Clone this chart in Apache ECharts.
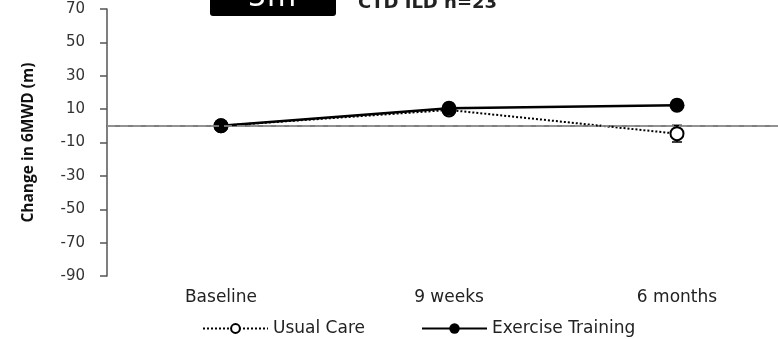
<!DOCTYPE html>
<html>
<head>
<meta charset="utf-8">
<script src="https://cdn.jsdelivr.net/npm/echarts@6/dist/echarts.min.js"></script>
<style>
  html, body { margin: 0; padding: 0; background: #fff; }
  #chart { width: 778px; height: 339px; }
</style>
</head>
<body>
<div id="chart"></div>
<script>
// Time points and mean change in 6-minute walk distance (m)
const categories = ['Baseline', '9 weeks', '6 months'];
const usualCare = [0, 9.5, -4.7];
const usualCareErr = [2.5, 3, 5];
const exercise = [0, 10.5, 12.3];
const exerciseErr = [2.5, 3, 3];

// Y axis range and tick step
const yMin = -90;
const yMax = 70;
const yStep = 20;

const FONT = 'DejaVu Sans';

// Vertical error bars with short caps, drawn behind the markers
function errorBars(values, errs) {
  return {
    type: 'custom',
    silent: true,
    z: 1,
    data: values.map((v, i) => [i, v - errs[i], v + errs[i]]),
    encode: { x: 0, y: [1, 2] },
    renderItem(params, api) {
      const x = api.value(0);
      const lo = api.coord([x, api.value(1)]);
      const hi = api.coord([x, api.value(2)]);
      const w = 5;
      const st = { stroke: '#000', lineWidth: 1.5 };
      return {
        type: 'group',
        children: [
          { type: 'line', shape: { x1: lo[0], y1: lo[1], x2: hi[0], y2: hi[1] }, style: st },
          { type: 'line', shape: { x1: lo[0] - w, y1: lo[1], x2: lo[0] + w, y2: lo[1] }, style: st },
          { type: 'line', shape: { x1: hi[0] - w, y1: hi[1], x2: hi[0] + w, y2: hi[1] }, style: st }
        ]
      };
    }
  };
}

const legendText = { fontFamily: FONT, fontSize: 17, color: '#222' };

const chart = echarts.init(document.getElementById('chart'), null, { renderer: 'canvas' });

chart.setOption({
  animation: false,
  backgroundColor: '#fff',
  textStyle: { fontFamily: FONT },
  grid: { left: 107, top: 9, width: 684, height: 267, containLabel: false, outerBoundsMode: 'none' },
  graphic: [
    {
      type: 'rect',
      shape: { x: 210, y: -10, width: 126, height: 26, r: 3 },
      style: { fill: '#000' }
    },
    {
      type: 'text',
      x: 272, y: 13.5,
      style: { text: '5m', fill: '#fff', font: '30px ' + FONT, align: 'center', verticalAlign: 'bottom' }
    },
    {
      type: 'text',
      x: 358, y: 12,
      style: { text: 'CTD ILD n=23', fill: '#222', font: 'bold 18px ' + FONT, align: 'left', verticalAlign: 'bottom' }
    }
  ],
  legend: [
    {
      data: ['Usual Care'],
      left: 197,
      top: 315,
      itemWidth: 65,
      itemHeight: 11,
      textStyle: legendText
    },
    {
      data: ['Exercise Training'],
      left: 416,
      top: 315,
      itemWidth: 65,
      itemHeight: 13,
      textStyle: legendText
    }
  ],
  xAxis: {
    type: 'category',
    data: categories,
    boundaryGap: true,
    axisLine: { show: true, lineStyle: { color: '#555', width: 1.5 } },
    axisTick: { show: false },
    axisLabel: { fontFamily: FONT, fontSize: 17, color: '#222', margin: 13 },
    splitLine: { show: false }
  },
  yAxis: {
    type: 'value',
    min: yMin,
    max: yMax,
    interval: yStep,
    name: 'Change in 6MWD (m)',
    nameLocation: 'middle',
    nameGap: 70,
    nameRotate: 90,
    nameTextStyle: { fontFamily: 'Open Sans', fontWeight: 'bold', fontSize: 15.5, color: '#111' },
    axisLine: { show: true, lineStyle: { color: '#555', width: 1.5 } },
    axisTick: { show: true, inside: false, length: 7, lineStyle: { color: '#555', width: 1.5 } },
    axisLabel: { fontFamily: FONT, fontSize: 15, color: '#333', margin: 22 },
    splitLine: { show: false }
  },
  series: [
    errorBars(usualCare, usualCareErr),
    errorBars(exercise, exerciseErr),
    {
      name: 'Usual Care',
      type: 'line',
      z: 3,
      data: usualCare,
      symbol: 'circle',
      symbolSize: 13,
      itemStyle: { color: '#fff', borderColor: '#000', borderWidth: 2 },
      lineStyle: { color: '#000', width: 2, type: [2, 2] }
    },
    {
      name: 'Exercise Training',
      type: 'line',
      z: 4,
      data: exercise,
      symbol: 'circle',
      symbolSize: 15,
      itemStyle: { color: '#000', borderColor: '#000', borderWidth: 0 },
      lineStyle: { color: '#000', width: 2.5, type: 'solid' },
      markLine: {
        silent: true,
        symbol: 'none',
        label: { show: false },
        lineStyle: { color: '#999', width: 1.5, type: [8, 5] },
        data: [{ yAxis: 0 }]
      }
    }
  ]
});
</script>
</body>
</html>
